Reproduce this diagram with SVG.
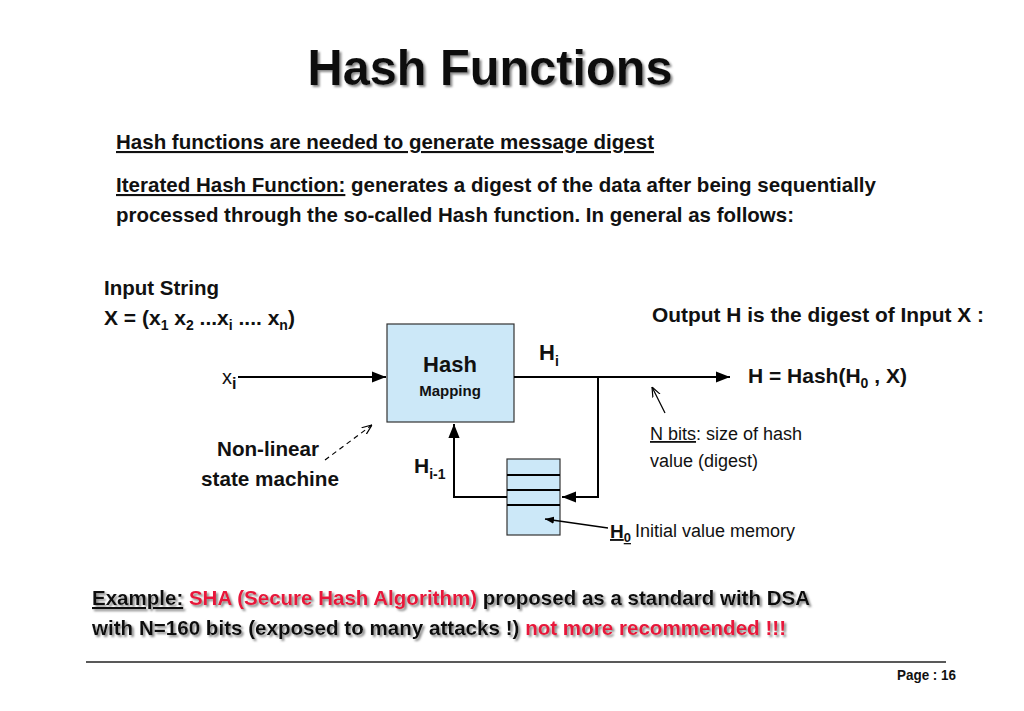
<svg xmlns="http://www.w3.org/2000/svg" width="1024" height="711" viewBox="0 0 1024 711">
<defs>
<marker id="ah" viewBox="0 0 10 10" refX="10" refY="5" markerWidth="7" markerHeight="7" orient="auto"><path d="M0,1 L10,5 L0,9 z" fill="#000"/></marker>
<marker id="ah2" viewBox="0 0 10 10" refX="10" refY="5" markerWidth="9" markerHeight="9" orient="auto" markerUnits="userSpaceOnUse"><path d="M0,1 L10,5 L0,9 z" fill="#000"/></marker>
<marker id="oa" viewBox="0 0 10 10" refX="10" refY="5" markerWidth="10" markerHeight="10" orient="auto" markerUnits="userSpaceOnUse"><path d="M0,1 L10,5 L0,9" fill="none" stroke="#000" stroke-width="1.2"/></marker>
<filter id="sh"><feDropShadow dx="2" dy="2" stdDeviation="0.8" flood-color="#888"/></filter>
</defs>
<style>
text{font-family:"Liberation Sans",Arial,sans-serif;fill:#111}
.b{font-weight:bold}
.r{fill:#e8173a}
.box{fill:#cce8f8;stroke:#333;stroke-width:1.2}
.ln{stroke:#000;stroke-width:2;fill:none}
</style>
<rect width="1024" height="711" fill="#fff"/>
<text x="490" y="85" text-anchor="middle" class="b" font-size="50" textLength="365" lengthAdjust="spacingAndGlyphs" filter="url(#sh)">Hash Functions</text>
<text x="116" y="149" class="b" font-size="21" textLength="538" lengthAdjust="spacingAndGlyphs" text-decoration="underline">Hash functions are needed to generate message digest</text>
<text x="116" y="192" class="b" font-size="21" textLength="760" lengthAdjust="spacingAndGlyphs"><tspan text-decoration="underline">Iterated Hash Function:</tspan> generates a digest of the data after being sequentially</text>
<text x="116" y="222" class="b" font-size="21" textLength="678" lengthAdjust="spacingAndGlyphs">processed through the so-called Hash function. In general as follows:</text>
<text x="104" y="295" class="b" font-size="21" textLength="115" lengthAdjust="spacingAndGlyphs">Input String</text>
<text x="104" y="325" class="b" font-size="21">X = (x<tspan font-size="14" dy="5">1</tspan><tspan dy="-5"> x</tspan><tspan font-size="14" dy="5">2</tspan><tspan dy="-5"> ...x</tspan><tspan font-size="14" dy="5">i</tspan><tspan dy="-5"> .... x</tspan><tspan font-size="14" dy="5">n</tspan><tspan dy="-5">)</tspan></text>
<text x="652" y="322" class="b" font-size="21" textLength="332" lengthAdjust="spacingAndGlyphs">Output H  is the digest of Input X :</text>
<g id="hash">
<rect class="box" x="387" y="324" width="127" height="98"/>
<text x="450" y="372" text-anchor="middle" class="b" font-size="22">Hash</text>
<text x="450" y="396" text-anchor="middle" class="b" font-size="15">Mapping</text>
</g>
<g id="memory">
<rect class="box" x="507" y="459" width="53" height="76"/>
<line stroke="#000" stroke-width="2" x1="507" y1="475" x2="560" y2="475"/>
<line stroke="#000" stroke-width="2" x1="507" y1="490" x2="560" y2="490"/>
<line stroke="#000" stroke-width="2" x1="507" y1="505" x2="560" y2="505"/>
</g>
<g id="connectors">
<line class="ln" x1="238" y1="377" x2="386" y2="377" marker-end="url(#ah)"/>
<line class="ln" x1="514" y1="377" x2="730" y2="377" marker-end="url(#ah)"/>
<polyline class="ln" points="598,377 598,497 562,497" marker-end="url(#ah)"/>
<polyline class="ln" points="507,497 454,497 454,424" marker-end="url(#ah)"/>
<line stroke="#000" stroke-width="1.3" x1="665" y1="413" x2="652" y2="387" marker-end="url(#oa)"/>
<line stroke="#000" stroke-width="1.3" x1="608" y1="528" x2="545" y2="519" marker-end="url(#ah2)"/>
<line stroke="#000" stroke-width="1.2" stroke-dasharray="5,4" x1="325" y1="460" x2="372" y2="425" marker-end="url(#oa)"/>
</g>
<text x="222" y="384" font-size="20">x<tspan class="b" font-size="16" dy="5">i</tspan></text>
<text x="539" y="360" class="b" font-size="22">H<tspan font-size="14" dy="6">i</tspan></text>
<text x="414" y="473" class="b" font-size="21">H<tspan font-size="14" dy="6">i-1</tspan></text>
<text x="748" y="383" class="b" font-size="21">H = Hash(H<tspan font-size="14" dy="5">0</tspan><tspan dy="-5"> , X)</tspan></text>
<text x="650" y="440" font-size="18"><tspan text-decoration="underline">N bits</tspan>: size of hash</text>
<text x="650" y="467" font-size="18">value (digest)</text>
<text x="610" y="538" class="b" font-size="19" text-decoration="underline">H<tspan font-size="13" dy="4">0</tspan></text>
<text x="635" y="537" font-size="18">Initial value memory</text>
<text x="268" y="456" text-anchor="middle" class="b" font-size="21" textLength="102" lengthAdjust="spacingAndGlyphs">Non-linear</text>
<text x="270" y="486" text-anchor="middle" class="b" font-size="21" textLength="138" lengthAdjust="spacingAndGlyphs">state machine</text>
<g filter="url(#sh)">
<text x="92" y="605" class="b" font-size="21" textLength="718" lengthAdjust="spacingAndGlyphs"><tspan text-decoration="underline">Example:</tspan> <tspan class="r">SHA (Secure Hash Algorithm)</tspan> proposed as a standard with DSA</text>
<text x="92" y="635" class="b" font-size="21" textLength="694" lengthAdjust="spacingAndGlyphs">with N=160 bits (exposed to many attacks !) <tspan class="r">not more recommended !!!</tspan></text>
</g>
<line x1="86" y1="662" x2="946" y2="662" stroke="#222" stroke-width="1.5"/>
<text x="956" y="680" text-anchor="end" class="b" font-size="14" textLength="59" lengthAdjust="spacingAndGlyphs">Page :  16</text>
</svg>
